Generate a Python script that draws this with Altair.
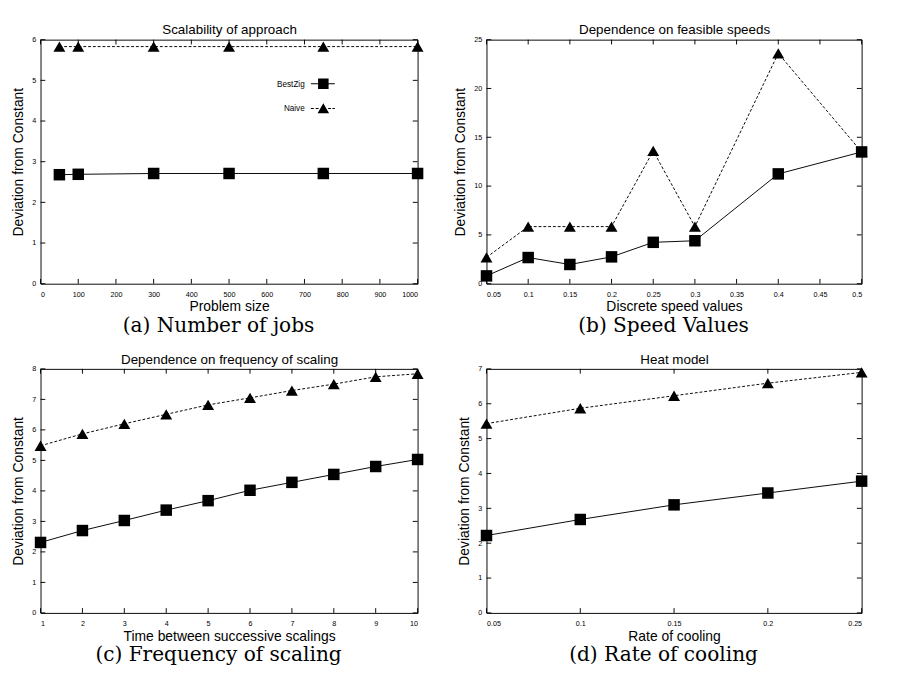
import altair as alt
import pandas as pd

# ---------------- data ----------------
series_names = ["BestZig", "Naive"]

# (a) Number of jobs
a_x = [50, 100, 300, 500, 750, 1000]
a_best = [2.68, 2.69, 2.71, 2.71, 2.71, 2.71]
a_naive = [5.83, 5.83, 5.83, 5.83, 5.83, 5.83]
a_xticks = [0, 100, 200, 300, 400, 500, 600, 700, 800, 900, 1000]
a_yticks = [0, 1, 2, 3, 4, 5, 6]

# (b) Speed values
b_x = [0.05, 0.1, 0.15, 0.2, 0.25, 0.3, 0.4, 0.5]
b_best = [0.8, 2.68, 1.97, 2.75, 4.24, 4.4, 11.25, 13.5]
b_naive = [2.7, 5.85, 5.85, 5.85, 13.6, 5.85, 23.6, 13.5]
b_xticks = [0.05, 0.1, 0.15, 0.2, 0.25, 0.3, 0.35, 0.4, 0.45, 0.5]
b_yticks = [0, 5, 10, 15, 20, 25]

# (c) Frequency of scaling
c_x = [1, 2, 3, 4, 5, 6, 7, 8, 9, 10]
c_best = [2.31, 2.70, 3.03, 3.37, 3.68, 4.02, 4.28, 4.54, 4.80, 5.03]
c_naive = [5.48, 5.87, 6.20, 6.51, 6.82, 7.05, 7.29, 7.50, 7.74, 7.84]
c_xticks = [1, 2, 3, 4, 5, 6, 7, 8, 9, 10]
c_yticks = [0, 1, 2, 3, 4, 5, 6, 7, 8]

# (d) Rate of cooling
d_x = [0.05, 0.1, 0.15, 0.2, 0.25]
d_best = [2.22, 2.68, 3.10, 3.44, 3.78]
d_naive = [5.43, 5.87, 6.23, 6.59, 6.90]
d_xticks = [0.05, 0.1, 0.15, 0.2, 0.25]
d_yticks = [0, 1, 2, 3, 4, 5, 6, 7]

SANS = "Liberation Sans"
SERIF = "DejaVu Serif"
TICK = 5
H = 255

# legend symbols (1 unit = 5 px, drawn to the right of the label):
# a thin filled bar (solid or dashed) with the marker in its middle
SQ_PATH = ("M2.5,-0.1L7.5,-0.1L7.5,0.1L2.5,0.1Z"
           "M4.0,-1.1L6.2,-1.1L6.2,1.1L4.0,1.1Z")
TRI_PATH = ("M2.5,-0.1L3.1,-0.1L3.1,0.1L2.5,0.1Z"
            "M3.5,-0.1L4.1,-0.1L4.1,0.1L3.5,0.1Z"
            "M6.1,-0.1L6.7,-0.1L6.7,0.1L6.1,0.1Z"
            "M7.0,-0.1L7.5,-0.1L7.5,0.1L7.0,0.1Z"
            "M5.1,-1.1L3.9,0.95L6.3,0.95Z")


def panel(xs, best, naive, xticks, yticks, xtitle, title, caption, w, h, leg_x, leg_y):
    df = pd.DataFrame({
        "x": list(xs) + list(xs),
        "y": list(best) + list(naive),
        "series": ["BestZig"] * len(xs) + ["Naive"] * len(xs),
    })
    xt = pd.DataFrame({"t": xticks})
    yt = pd.DataFrame({"t": yticks})
    xsc = alt.Scale(domain=[xticks[0], xticks[-1]], nice=False, zero=False)
    ysc = alt.Scale(domain=[yticks[0], yticks[-1]], nice=False, zero=False)

    bottom_axis = alt.Axis(orient="bottom", values=xticks, format=".4~g", title=xtitle,
                           titleFont=SANS, titleFontSize=14.5, titleFontWeight="normal",
                           titleColor="black", titlePadding=3, labelFont=SANS,
                           labelFontSize=7.5, labelColor="black", labelPadding=7,
                           ticks=False, tickSize=0, domain=False, grid=False,
                           labelOverlap=False)
    top_axis = alt.Axis(orient="top", title=title, titleFont=SANS, titleFontSize=14,
                        titleFontWeight="normal", titleColor="black", titlePadding=3,
                        labels=False, ticks=False, tickSize=0, domain=False, grid=False)
    left_axis = alt.Axis(orient="left", values=yticks, format=".4~g",
                         title="Deviation from Constant", titleFont=SANS, titleFontSize=14.5,
                         titleFontWeight="normal", titleColor="black", titlePadding=7,
                         labelFont=SANS, labelFontSize=7.5, labelColor="black",
                         labelPadding=5, ticks=False, tickSize=0, domain=False, grid=False,
                         labelOverlap=False)

    Y = alt.Y("y:Q", scale=ysc, axis=left_axis)

    # inward tick marks on all four sides (gnuplot style)
    rule = dict(color="black", strokeWidth=1)
    xb = alt.Chart(xt).mark_rule(**rule).encode(
        x=alt.X("t:Q", scale=xsc, axis=None),
        y=alt.value(h), y2=alt.value(h - TICK))
    xtp = alt.Chart(xt).mark_rule(**rule).encode(
        x=alt.X("t:Q", scale=xsc, axis=None),
        y=alt.value(0), y2=alt.value(TICK))
    yl = alt.Chart(yt).mark_rule(**rule).encode(
        y=alt.Y("t:Q", scale=ysc, axis=left_axis),
        x=alt.value(0), x2=alt.value(TICK))
    yr = alt.Chart(yt).mark_rule(**rule).encode(
        y=alt.Y("t:Q", scale=ysc, axis=left_axis),
        x=alt.value(w), x2=alt.value(w - TICK))

    base = alt.Chart(df)
    X0 = alt.X("x:Q", scale=xsc, axis=None)
    best_line = base.transform_filter(alt.datum.series == "BestZig").mark_line(
        color="black", strokeWidth=1).encode(
        x=alt.X("x:Q", scale=xsc, axis=bottom_axis), y=Y)
    naive_line = base.transform_filter(alt.datum.series == "Naive").mark_line(
        color="black", strokeWidth=1, strokeDash=[3, 2]).encode(
        x=alt.X("x:Q", scale=xsc, axis=top_axis), y=Y)
    best_pts = base.transform_filter(alt.datum.series == "BestZig").mark_point(
        shape="square", filled=True, color="black", size=144, opacity=1).encode(x=X0, y=Y)
    naive_pts = base.transform_filter(alt.datum.series == "Naive").mark_point(
        shape="triangle-up", filled=True, color="black", size=155, opacity=1).encode(x=X0, y=Y)

    leg = alt.Legend(title=None, orient="none", legendX=leg_x, legendY=leg_y,
                     direction="vertical", padding=0, rowPadding=8, symbolSize=100,
                     symbolOpacity=1, symbolFillColor="black", symbolStrokeColor="black",
                     labelAlign="right", labelOffset=0,
                     labelFont=SANS, labelFontSize=8.5, labelColor="black")
    legend_layer = base.mark_point(filled=True, opacity=0, size=100, color="black").encode(
        x=X0, y=Y,
        shape=alt.Shape("series:N", scale=alt.Scale(domain=series_names,
                                                    range=[SQ_PATH, TRI_PATH]), legend=leg),
    )

    return alt.layer(best_line, naive_line, xb, xtp, yl, yr, best_pts, naive_pts,
                     legend_layer).properties(
        width=w, height=h,
        title=alt.TitleParams(text=caption, orient="bottom", anchor="middle", font=SERIF,
                              fontSize=21, fontWeight="normal", color="black", offset=2,
                              dx=-11),
    )


pa = panel(a_x, a_best, a_naive, a_xticks, a_yticks, "Problem size",
           "Scalability of approach", "(a) Number of jobs", 394, H, 264, 40)
pb = panel(b_x, b_best, b_naive, b_xticks, b_yticks, "Discrete speed values",
           "Dependence on feasible speeds", "(b) Speed Values", 392, H, 113, 68)
pc = panel(c_x, c_best, c_naive, c_xticks, c_yticks, "Time between successive scalings",
           "Dependence on frequency of scaling", "(c) Frequency of scaling", 394, H, 316, 173)
pd_ = panel(d_x, d_best, d_naive, d_xticks, d_yticks, "Rate of cooling",
            "Heat model", "(d) Rate of cooling", 392, H, 282, 197)

chart = alt.concat(pa, pb, pc, pd_, columns=2).properties(
    spacing={"row": 89, "column": 72},
    bounds="flush",
    padding={"left": 2, "top": 0, "right": 0, "bottom": 0},
).configure(font=SANS).configure_view(stroke="black", strokeWidth=1)

chart.save("out.html", embed_options={"renderer": "svg", "actions": False})
